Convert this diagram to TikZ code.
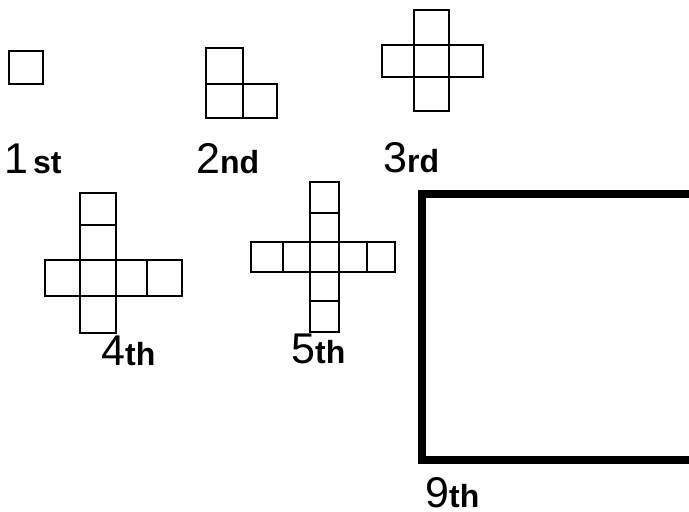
\documentclass[tikz,border=0pt]{standalone}
\usepackage{fontspec}
\setmainfont{Liberation Sans}
\tikzset{
  sq/.style={line width=2.7pt},
  bigsq/.style={line width=8pt, line join=miter},
  lab/.style={anchor=base west, inner sep=0pt, font=\fontsize{43}{43}\selectfont},
}
\newcommand{\sfx}[1]{{\fontsize{32}{32}\selectfont\bfseries #1}}
\begin{document}
\begin{tikzpicture}[x=1pt, y=-1pt]
	\useasboundingbox (0,0) rectangle (689,512);
	% 1st
	\draw[sq] (9,51) rectangle (43,84);
	% 2nd
	\foreach \a/\b/\c/\d in {206/48/243/84, 206/84/243/118, 243/84/277/118}
		\draw[sq] (\a,\b) rectangle (\c,\d);
	% 3rd
	\foreach \a/\b/\c/\d in {414/10/449/45, 382/45/414/77, 414/45/449/77, 449/45/483/77, 414/77/449/111}
		\draw[sq] (\a,\b) rectangle (\c,\d);
	% 4th
	\foreach \a/\b/\c/\d in {80/193/116/225, 80/225/116/260, 80/260/116/296, 80/296/116/333, 45/260/80/296, 116/260/147/296, 147/260/182/296}
		\draw[sq] (\a,\b) rectangle (\c,\d);
	% 5th
	\foreach \a/\b/\c/\d in {310/182/339/213, 310/213/339/242, 310/242/339/272, 310/272/339/301, 310/301/339/332, 251/242/283/272, 283/242/310/272, 339/242/367/272, 367/242/395/272}
		\draw[sq] (\a,\b) rectangle (\c,\d);
	% 9th
	\draw[bigsq] (421.5,194) rectangle (693,460);
	% labels
	\node[lab] (n1) at (4,173) {1\hspace{5pt}\sfx{st}};
	\node[lab] (n2) at (196,173) {2\sfx{nd}};
	\node[lab] (n3) at (383,172) {3\sfx{rd}};
	\node[lab] (n4) at (101,365) {4\sfx{th}};
	\node[lab] (n5) at (291,363) {5\sfx{th}};
	\node[lab] (n9) at (425,507) {9\sfx{th}};
\end{tikzpicture}
\end{document}
